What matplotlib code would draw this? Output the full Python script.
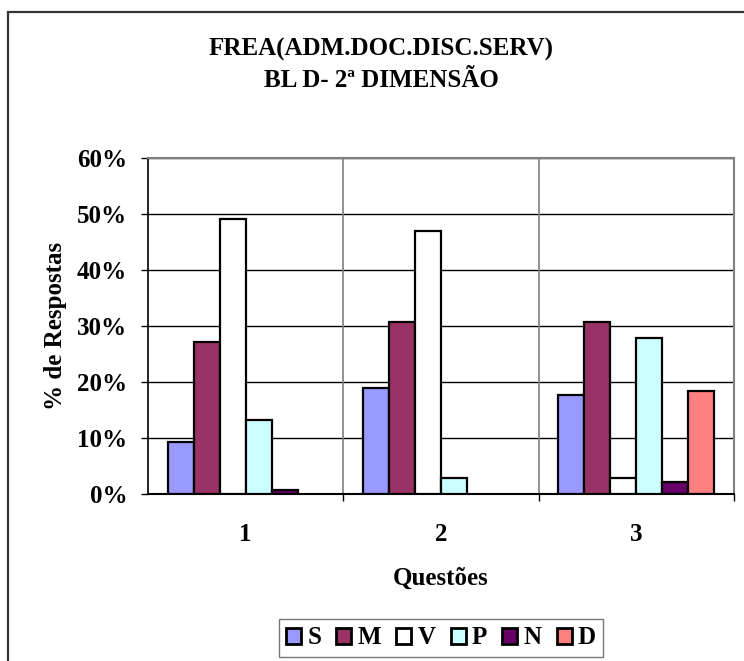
import matplotlib
matplotlib.use("Agg")
import matplotlib.pyplot as plt
from matplotlib.patches import Rectangle
from matplotlib.ticker import FixedLocator, PercentFormatter
import numpy as np

plt.rcParams['font.family'] = ['Liberation Serif', 'DejaVu Serif']
plt.rcParams['font.weight'] = 'bold'

title = "FREA(ADM.DOC.DISC.SERV)\nBL D- 2ª DIMENSÃO"
questions = ["1", "2", "3"]
series = ["S", "M", "V", "P", "N", "D"]
values = {
    "S": [9.3, 19.0, 17.6],
    "M": [27.1, 30.8, 30.8],
    "V": [49.1, 47.0, 2.9],
    "P": [13.2, 2.9, 27.8],
    "N": [0.7, 0.0, 2.1],
    "D": [0.0, 0.0, 18.4],
}
colors = {
    "S": "#9999FF",
    "M": "#993366",
    "V": "#FFFFFF",
    "P": "#CCFFFF",
    "N": "#660066",
    "D": "#FF8080",
}
yticks = [0, 10, 20, 30, 40, 50, 60]

fig = plt.figure(figsize=(7.44, 6.61), dpi=100)
# outer chart border
fig.patches.append(Rectangle((8/744, -0.1), 1.2, 1 - 12/661 + 0.1,
                             transform=fig.transFigure, fill=False,
                             edgecolor="#333333", linewidth=1.6, zorder=0))

ax = fig.add_axes([148/744, 1 - 494/661, (734 - 148)/744, (494 - 158)/661])

x = np.arange(len(questions))
w = 1 / 7.5
for i, s in enumerate(series):
    vals = values[s]
    heights = [v if v > 0 else np.nan for v in vals]
    ax.bar(x + (i - 2.5) * w, heights, width=w, color=colors[s],
           edgecolor="black", linewidth=1.6, label=s, zorder=3)

ax.set_xlim(-0.5, 2.5)
ax.set_ylim(0, 60)
ax.yaxis.set_major_locator(FixedLocator(yticks))
ax.yaxis.set_major_formatter(PercentFormatter(decimals=0))
ax.set_xticks(x)
ax.set_xticklabels(questions)
ax.set_xticks([0.5, 1.5, 2.5], minor=True)
ax.tick_params(axis='x', which='major', length=0, pad=21, labelsize=18)
ax.tick_params(axis='x', which='minor', length=5, direction='out', width=1, color='black')
ax.tick_params(axis='y', which='major', length=5, direction='out', width=1, color='black',
               labelsize=18, pad=10)
for lbl in ax.get_yticklabels() + ax.get_xticklabels():
    lbl.set_fontweight('bold')

ax.grid(axis='y', color='black', linewidth=1.0, zorder=1)
for xv in [0.5, 1.5]:
    ax.axvline(xv, color='#808080', linewidth=1.2, zorder=1)

ax.spines['left'].set_color('black')
ax.spines['left'].set_linewidth(1.2)
ax.spines['bottom'].set_color('black')
ax.spines['bottom'].set_linewidth(1.5)
ax.spines['top'].set_color('#808080')
ax.spines['top'].set_linewidth(1.5)
ax.spines['right'].set_color('#808080')
ax.spines['right'].set_linewidth(1.5)
ax.set_axisbelow(True)

ax.set_ylabel("% de Respostas", fontsize=18, fontweight='bold', labelpad=7)
ax.set_xlabel("Questões", fontsize=18, fontweight='bold', labelpad=15)

fig.text(381/744, 1 - 65/661, title, ha='center', va='center', fontsize=18,
         fontweight='bold', linespacing=1.45)

leg = fig.legend(loc='center', bbox_to_anchor=(441/744, 1 - 638/661), ncol=6,
                 frameon=True, fancybox=False, edgecolor='#555555',
                 prop={'size': 18, 'weight': 'bold'}, handlelength=0.6,
                 handleheight=0.6, handletextpad=0.25, columnspacing=0.6,
                 borderpad=0.3)
leg.get_frame().set_linewidth(1.0)
for h in leg.legend_handles:
    h.set_linewidth(2.0)

fig.savefig("out.png", dpi=100)
